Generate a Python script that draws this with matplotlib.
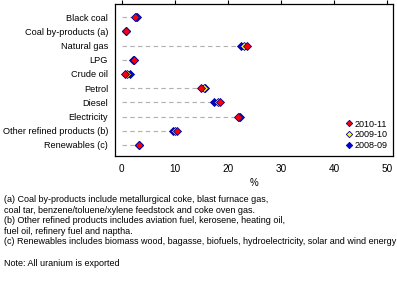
import matplotlib
matplotlib.use("Agg")
import matplotlib.pyplot as plt

categories = ["Black coal", "Coal by-products (a)", "Natural gas", "LPG", "Crude oil",
              "Petrol", "Diesel", "Electricity", "Other refined products (b)", "Renewables (c)"]
share_2010_11 = [2.5, 0.8, 23.5, 2.2, 0.6, 15.0, 18.5, 21.8, 10.4, 3.3]
share_2009_10 = [2.7, 0.8, 23.0, 2.2, 1.0, 15.4, 18.2, 22.1, 10.0, 3.3]
share_2008_09 = [2.9, 0.8, 22.4, 2.1, 1.5, 15.7, 17.3, 22.3, 9.6, 3.3]
xticks = [0, 10, 20, 30, 40, 50]

notes = ("(a) Coal by-products include metallurgical coke, blast furnace gas,\n"
         "coal tar, benzene/toluene/xylene feedstock and coke oven gas.\n"
         "(b) Other refined products includes aviation fuel, kerosene, heating oil,\n"
         "fuel oil, refinery fuel and naptha.\n"
         "(c) Renewables includes biomass wood, bagasse, biofuels, hydroelectricity, solar and wind energy")
note2 = "Note: All uranium is exported"

plt.rcParams['font.family'] = ['Liberation Sans', 'DejaVu Sans']

fig = plt.figure(figsize=(3.97, 2.83), dpi=100)
ax = fig.add_axes([115 / 397, 1 - 156 / 283, (393 - 115) / 397, (156 - 4) / 283])

ypos = list(range(len(categories)))
mins = [min(a, b, c) for a, b, c in zip(share_2010_11, share_2009_10, share_2008_09)]
ax.hlines(ypos, 0, mins, colors="#b0b0b0", linestyles=(0, (4, 3)), linewidth=0.8, zorder=1)

ms = 4.3
edge = "#0000a0"
ax.plot(share_2008_09, ypos, "D", color="#0000e0", mec=edge, mew=0.6, ms=ms, ls="none", label="2008-09", zorder=3)
ax.plot(share_2009_10, ypos, "D", color="#ffff00", mec=edge, mew=0.6, ms=ms, ls="none", label="2009-10", zorder=4)
ax.plot(share_2010_11, ypos, "D", color="#ff0000", mec=edge, mew=0.6, ms=ms, ls="none", label="2010-11", zorder=5)

ax.set_xlim(-1.3, 51.1)
ax.set_ylim(len(categories) - 0.22, -0.93)
ax.set_yticks(ypos)
ax.set_yticklabels(categories, fontsize=6.6)
ax.tick_params(axis="y", length=0, pad=5)
ax.set_xticks(xticks)
ax.set_xticklabels([str(t) for t in xticks], fontsize=7.2)
ax.tick_params(axis="x", top=True, bottom=False, direction="out", length=3, width=0.8, pad=3)
for s in ax.spines.values():
    s.set_linewidth(0.9)
ax.set_xlabel("%", fontsize=7, labelpad=3)

handles, labels = ax.get_legend_handles_labels()
leg = ax.legend(handles[::-1], labels[::-1], loc="lower right", fontsize=6.5, frameon=False,
                handlelength=0.6, handletextpad=0.3, labelspacing=0.2, borderaxespad=0.25,
                markerscale=0.75)

fig.text(4 / 397, 1 - 195 / 283, notes, fontsize=6.45, va="top", ha="left", linespacing=1.22)
fig.text(4 / 397, 1 - 263 / 283, note2, fontsize=6.45, va="center", ha="left")

fig.savefig("out.png", dpi=100)
